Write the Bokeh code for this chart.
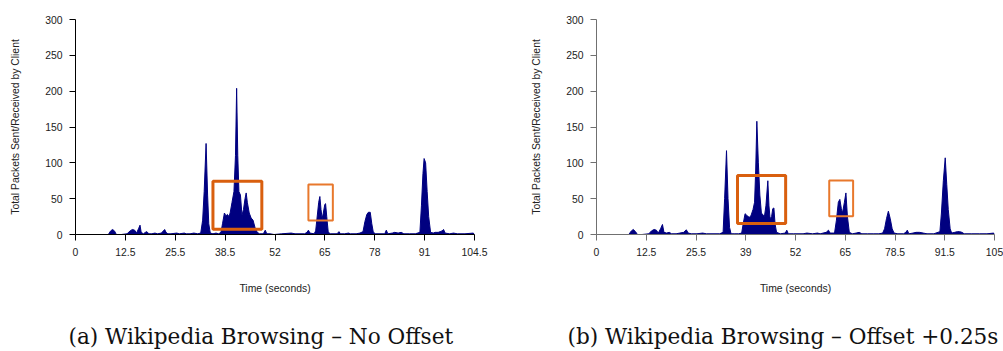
from bokeh.plotting import figure
from bokeh.layouts import row, column
from bokeh.models import Range1d, FixedTicker, BoxAnnotation
from bokeh.core.properties import value
from bokeh.embed import file_html
from bokeh.resources import INLINE

# ---------------- data ----------------
# (a) No offset
t_a = [0, 8.6, 9.2, 9.7, 10.2, 10.7, 12, 13.5, 14.3, 14.9, 15.5, 16.0, 16.5, 16.9, 17.2, 17.8,
       18.3, 18.7, 19.2, 20, 20.8, 21.5, 22.5, 23.0, 23.35, 23.7, 24.2, 25, 26.5, 27.2, 28.5, 29,
       30, 31, 32, 32.8, 33.3, 33.7, 34.2, 34.6, 34.9, 35.3, 36, 36.8, 37.5, 38.1, 38.5, 39.0,
       39.4, 39.8, 40.2, 40.5, 41.0, 41.5, 41.9, 42.2, 42.5, 42.8, 43.2, 43.6, 44.0, 44.4, 44.7,
       45.0, 45.5, 46.0, 46.5, 47.0, 47.6, 48.2, 49.2, 49.7, 50.1, 51, 52, 54, 56.5, 57.5, 60,
       60.6, 61.0, 61.4, 62.5, 62.9, 63.4, 63.7, 64.0, 64.3, 64.6, 64.9, 65.3, 65.5, 65.8, 66.2,
       66.8, 68.5, 69.0, 69.4, 70.5, 71.5, 72, 73.5, 74.5, 75.3, 75.8, 76.3, 76.7, 77.2, 77.6,
       78.0, 78.6, 79.5, 81.0, 81.4, 81.8, 83, 83.6, 84.5, 85.3, 86, 87.5, 89, 90.2, 90.6, 91.0,
       91.3, 91.7, 92.1, 92.5, 93.0, 93.7, 94.2, 95, 95.5, 96.0, 96.4, 96.8, 98, 99, 100, 102,
       104.2, 104.5]
v_a = [0, 0, 5, 7, 5, 0, 0, 1, 5, 7, 6, 2, 8, 13, 3, 1,
       3, 4, 1, 1, 2, 1, 2, 5, 7, 3, 1, 1, 2, 1, 2, 1,
       1, 2, 1, 2, 20, 60, 127, 55, 15, 2, 1, 2, 1, 3, 15, 30,
       26, 28, 25, 30, 45, 60, 110, 204, 110, 60, 55, 27, 35, 50, 58,
       45, 30, 23, 20, 10, 3, 1, 1, 6, 1, 1, 0, 1, 2, 1, 1,
       3, 6, 2, 1, 5, 30, 45, 53, 35, 22, 30, 42, 43, 25, 3,
       1, 1, 4, 1, 1, 2, 1, 1, 2, 4, 18, 28, 31, 31, 15,
       3, 1, 1, 1, 6, 1, 2, 3, 2, 3, 1, 1, 1, 3, 40, 85,
       106, 100, 60, 25, 3, 2, 3, 3, 4, 5, 7, 2, 1, 2, 1, 1,
       2, 0]

# (b) Offset +0.25s
t_b = [0, 8.5, 9.2, 9.7, 10.3, 10.8, 12, 13.8, 14.5, 15.2, 15.8, 16.3, 16.9, 17.4, 17.8, 18.5,
       19.2, 19.8, 21, 22, 23.0, 23.7, 24.2, 25, 26.5, 28, 29, 31, 32.5, 33.4, 33.8, 34.3, 34.7,
       35.1, 35.5, 36.5, 37.5, 38.3, 38.7, 39.2, 39.6, 40.0, 40.4, 40.8, 41.3, 41.7, 42.0, 42.3,
       42.7, 43.1, 43.5, 44.0, 44.3, 44.7, 45.2, 45.5, 45.8, 46.2, 46.5, 46.8, 47.1, 47.5, 48.5,
       49.8, 50.2, 50.6, 52, 54.5, 55.5, 57, 58.3, 59, 60.6, 61.2, 61.6, 62.8, 63.3, 63.8, 64.2,
       64.6, 64.9, 65.4, 65.8, 66.2, 66.7, 67.5, 68.5, 69.3, 70, 71.5, 73, 74.5, 75.5, 76.0, 76.5,
       77.0, 77.5, 78.0, 78.5, 79.5, 81, 81.6, 82.0, 82.4, 83.5, 84.3, 85.2, 86.2, 87.2, 89, 90.6,
       91.0, 91.5, 92.0, 92.4, 92.8, 93.3, 93.7, 94.5, 95.2, 95.8, 96.4, 97, 99, 101, 103, 104.8,
       105]
v_b = [0, 0, 5, 7, 4, 0, 0, 1, 5, 7, 6, 2, 8, 14, 3, 2,
       3, 1, 1, 2, 3, 6.5, 2, 1, 1, 2, 1, 1, 1, 3, 50, 117, 50,
       10, 1, 1, 1, 2, 15, 29, 27, 25, 24, 27, 35, 45, 90, 158,
       100, 55, 30, 27, 25, 40, 75, 40, 22, 25, 36, 37, 15, 3, 1,
       2, 6, 1, 1, 1, 2, 1, 2, 1, 3, 6, 2, 2, 20, 45, 49,
       36, 30, 45, 58, 25, 3, 1, 2, 3, 1, 1, 1, 1, 2, 8, 22,
       32.5, 22, 8, 2, 1, 1, 3, 6, 1, 2, 3, 3, 2, 1, 1, 4,
       30, 75, 107, 70, 35, 8, 2, 3, 4, 4, 3, 1, 1, 1, 1, 2,
       0]

y_ticks = [0, 50, 100, 150, 200, 250, 300]
xlabels_a = ["0", "12.5", "25.5", "38.5", "52", "65", "78", "91", "104.5"]
xlabels_b = ["0", "12.5", "25.5", "39", "52", "65", "78.5", "91.5", "105"]
xmax_a = 104.5
xmax_b = 105

# highlight boxes: (left, right, bottom, top)
boxes_a = [(36.0, 48.8, 7.4, 74.4), (61.0, 67.4, 19.5, 69.8)]
boxes_b = [(37.2, 49.9, 15.3, 82.3), (61.4, 67.7, 25.5, 75.3)]

captions = ["(a) Wikipedia Browsing \u2013 No Offset", "(b) Wikipedia Browsing \u2013 Offset +0.25s"]

NAVY = "#000080"
SANS = "Liberation Sans"


def make_plot(t, v, xmax, xlabels, boxes, width, bl, br, axis_color):
    p = figure(width=width, height=301, output_backend="svg", toolbar_location=None,
               x_range=Range1d(0, xmax), y_range=Range1d(0, 300),
               min_border_left=bl, min_border_right=br, min_border_top=19, min_border_bottom=67)
    p.outline_line_color = None
    p.grid.grid_line_color = None
    p.background_fill_color = "white"
    p.border_fill_color = "white"

    p.varea(x=t, y1=0, y2=v, fill_color=NAVY)
    p.line(t, v, line_color=NAVY, line_width=1)

    for (l, r, b, tp), lw, col in zip(boxes, [3, 2], ["#d95f0e", "#e8782c"]):
        p.add_layout(BoxAnnotation(left=l, right=r, bottom=b, top=tp, fill_alpha=0,
                                   line_color=col, line_alpha=1, line_width=lw))

    n = len(xlabels) - 1
    xt = [i * xmax / n for i in range(n + 1)]
    p.xaxis.ticker = FixedTicker(ticks=xt)
    p.xaxis.major_label_overrides = dict(zip(xt, xlabels))
    p.yaxis.ticker = FixedTicker(ticks=y_ticks)

    for ax in (p.xaxis, p.yaxis):
        ax.axis_line_color = axis_color
        ax.major_tick_line_color = axis_color
        ax.minor_tick_line_color = None
        ax.major_tick_in = 0
        ax.major_tick_out = 6
        ax.major_label_standoff = 7
        ax.major_label_text_font = SANS
        ax.major_label_text_font_size = "10.4px"
        ax.major_label_text_color = "#222222"
        ax.axis_label_text_font = SANS
        ax.axis_label_text_font_size = "10.4px"
        ax.axis_label_text_font_style = "normal"
        ax.axis_label_text_color = "#222222"
    p.xaxis.axis_label = "Time (seconds)"
    p.xaxis.axis_label_standoff = 24
    p.yaxis.axis_label = "Total Packets Sent/Received by Client"
    p.yaxis.axis_label_standoff = 21
    return p


p1 = make_plot(t_a, v_a, xmax_a, xlabels_a, boxes_a, 501, 75, 27, "#000000")
p2 = make_plot(t_b, v_b, xmax_b, xlabels_b, boxes_b, 502, 95, 9, "#707070")

# caption strip below the two panels (x in page pixels, y in strip pixels from bottom)
cap = figure(width=1003, height=50, output_backend="svg", toolbar_location=None,
             x_range=Range1d(0, 1003), y_range=Range1d(0, 50),
             min_border=0, x_axis_type=None, y_axis_type=None)
cap.outline_line_color = None
cap.grid.grid_line_color = None
cap.text(x=[68, 567], y=[15, 15], text=captions, text_font=value("DejaVu Serif"),
         text_font_size="21.6px", text_color="#111111", text_align="left",
         text_baseline="alphabetic")

layout = column(row(p1, p2), cap)
open("out.html", "w").write(file_html(layout, INLINE))
